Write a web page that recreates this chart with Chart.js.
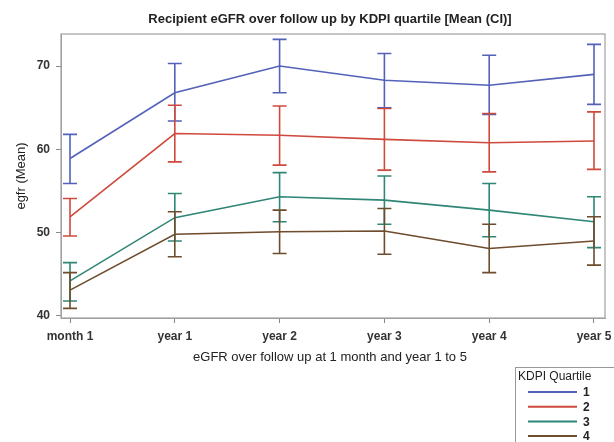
<!DOCTYPE html>
<html lang="en">
<head>
    <meta charset="UTF-8">
    <title>Recipient eGFR over follow up by KDPI quartile</title>
    <script src="https://cdn.jsdelivr.net/npm/chart.js"></script>
    <style>
        * { margin: 0; padding: 0; }
        body { background: #fff; }
        #chartContainer { width: 614px; height: 442px; }
    </style>
</head>
<body>
    <div id="chartContainer">
        <canvas id="egfrChart"></canvas>
    </div>

    <script>
        const timepoints = ['month 1', 'year 1', 'year 2', 'year 3', 'year 4', 'year 5'];
        const quartiles = ['1', '2', '3', '4'];
        const yTicks = [40, 50, 60, 70];

        // mean, lower CI, upper CI per quartile
        const q1Mean  = [58.9, 66.8, 70.0, 68.3, 67.7, 69.0];
        const q1Lower = [55.9, 63.4, 66.8, 65.0, 64.2, 65.4];
        const q1Upper = [61.8, 70.3, 73.2, 71.5, 71.3, 72.6];

        const q2Mean  = [51.9, 61.9, 61.7, 61.2, 60.8, 61.0];
        const q2Lower = [49.6, 58.5, 58.1, 57.5, 57.3, 57.6];
        const q2Upper = [54.1, 65.3, 65.2, 64.9, 64.3, 64.5];

        const q3Mean  = [44.2, 51.8, 54.3, 53.9, 52.7, 51.3];
        const q3Lower = [41.8, 49.0, 51.3, 51.0, 49.5, 48.2];
        const q3Upper = [46.4, 54.7, 57.2, 56.8, 55.9, 54.3];

        const q4Mean  = [43.1, 49.8, 50.1, 50.2, 48.1, 49.0];
        const q4Lower = [40.9, 47.1, 47.5, 47.4, 45.2, 46.1];
        const q4Upper = [45.2, 52.5, 52.7, 52.9, 51.0, 51.9];

        const colors = ['#5361b8', '#cf4a3e', '#2f8676', '#6e4c2e'];
        const means  = [q1Mean, q2Mean, q3Mean, q4Mean];
        const lowers = [q1Lower, q2Lower, q3Lower, q4Lower];
        const uppers = [q1Upper, q2Upper, q3Upper, q4Upper];

        const FONT = '"Liberation Sans", Arial, sans-serif';

        const datasets = quartiles.map((q, i) => ({
            label: q,
            data: means[i].map((v, j) => ({ x: j, y: v, lo: lowers[i][j], hi: uppers[i][j] })),
            borderColor: colors[i],
            backgroundColor: colors[i],
            borderWidth: 1.6,
            pointRadius: 0,
            tension: 0,
            fill: false
        }));

        // error bars, frame, texts and legend
        const decorations = {
            id: 'decorations',
            afterDatasetsDraw(chart) {
                const c = chart.ctx;
                const xs = chart.scales.x, ys = chart.scales.y;
                const area = chart.chartArea;
                c.save();
                chart.data.datasets.forEach(ds => {
                    c.strokeStyle = ds.borderColor;
                    c.lineWidth = 1.6;
                    ds.data.forEach(p => {
                        const x = xs.getPixelForValue(p.x);
                        const yl = ys.getPixelForValue(p.lo);
                        const yh = ys.getPixelForValue(p.hi);
                        c.beginPath();
                        c.moveTo(x, yl); c.lineTo(x, yh);
                        c.moveTo(x - 7, yl); c.lineTo(x + 7, yl);
                        c.moveTo(x - 7, yh); c.lineTo(x + 7, yh);
                        c.stroke();
                    });
                });
                c.strokeStyle = '#a0a0a0';
                c.lineWidth = 1.2;
                c.strokeRect(area.left, area.top, area.right - area.left, area.bottom - area.top);

                c.fillStyle = '#222';
                c.textAlign = 'center';
                c.textBaseline = 'middle';
                c.font = 'bold 13px ' + FONT;
                c.fillText('Recipient eGFR over follow up by KDPI quartile [Mean (CI)]', 330, 19);
                c.font = '13px ' + FONT;
                c.fillText('eGFR over follow up at 1 month and year 1 to 5', 330, 357);
                c.save();
                c.translate(21, 176);
                c.rotate(-Math.PI / 2);
                c.fillText('egfr (Mean)', 0, 0);
                c.restore();

                // legend box
                c.strokeStyle = '#999';
                c.lineWidth = 1;
                c.strokeRect(515.5, 367.5, 110, 90);
                c.fillStyle = '#222';
                c.textAlign = 'left';
                c.font = '12px ' + FONT;
                c.fillText('KDPI Quartile', 518, 377);
                chart.data.datasets.forEach((ds, i) => {
                    const y = 392 + i * 14.7;
                    c.strokeStyle = ds.borderColor;
                    c.lineWidth = 2;
                    c.beginPath();
                    c.moveTo(528, y); c.lineTo(577, y);
                    c.stroke();
                    c.font = 'bold 12px ' + FONT;
                    c.fillText(ds.label, 583, y + 1);
                });
                c.restore();
            }
        };

        const ctx = document.getElementById('egfrChart').getContext('2d');
        new Chart(ctx, {
            type: 'line',
            data: { datasets: datasets },
            plugins: [decorations],
            options: {
                responsive: true,
                maintainAspectRatio: false,
                animation: false,
                layout: { padding: { top: 34, right: 9, left: 0, bottom: 0 } },
                plugins: {
                    legend: { display: false },
                    title: { display: false },
                    tooltip: { enabled: false }
                },
                scales: {
                    x: {
                        type: 'linear',
                        min: -0.086,
                        max: 5.105,
                        afterBuildTicks: s => { s.ticks = timepoints.map((t, i) => ({ value: i })); },
                        afterFit: s => { s.height = 124; s.paddingLeft = 0; s.paddingRight = 0; },
                        grid: { drawOnChartArea: false, tickLength: 5, color: '#888' },
                        border: { color: '#a0a0a0' },
                        ticks: {
                            padding: 6,
                            color: '#333',
                            font: { family: FONT, size: 12, weight: 'bold' },
                            maxRotation: 0,
                            callback: v => timepoints[v]
                        }
                    },
                    y: {
                        min: 39.75,
                        max: 73.85,
                        afterBuildTicks: s => { s.ticks = yTicks.map(v => ({ value: v })); },
                        afterFit: s => { s.width = 61; s.paddingTop = 0; s.paddingBottom = 0; },
                        grid: { drawOnChartArea: false, tickLength: 5, color: '#888' },
                        border: { color: '#a0a0a0' },
                        ticks: {
                            padding: 6,
                            color: '#333',
                            font: { family: FONT, size: 12, weight: 'bold' }
                        }
                    }
                }
            }
        });
    </script>
</body>
</html>
